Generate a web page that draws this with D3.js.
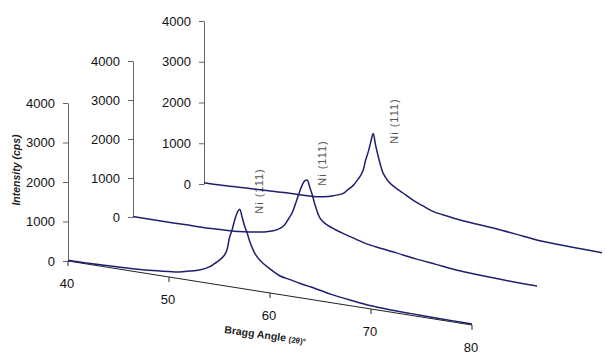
<!DOCTYPE html>
<html>
<head>
<meta charset="utf-8">
<script src="https://cdn.jsdelivr.net/npm/d3@7"></script>
<style>
  body { margin: 0; background: #fff; }
  svg { display: block; font-family: Arial, "Liberation Sans", sans-serif; }
</style>
</head>
<body>
<div id="chart"></div>
<script>
// Bragg angle grid (2θ, degrees)
const angles = [40, 42, 44, 46, 48, 50, 51, 52, 53, 54, 54.5, 55, 55.5, 55.75, 56, 56.25, 56.5, 56.75,
  57, 57.25, 57.5, 57.75, 58, 58.5, 59, 60, 61, 62, 63, 64, 66, 68, 70, 72, 74, 76, 78, 80];

// intensity (cps), front to back
const frontCounts = [20, 25, 40, 60, 90, 140, 170, 230, 300, 420, 520, 630, 780, 930, 1250, 1450, 1700, 1900,
  2000, 1800, 1580, 1420, 1220, 940, 790, 610, 470, 420, 360, 320, 215, 140, 80, 55, 45, 35, 30, 25];
const middleCounts = [10, 20, 30, 45, 60, 90, 120, 160, 210, 290, 360, 480, 700, 820, 1000, 1200, 1400, 1580,
  1700, 1730, 1560, 1380, 1150, 820, 700, 590, 510, 440, 370, 330, 270, 200, 150, 100, 75, 60, 50, 50];
const backCounts = [30, 50, 80, 110, 140, 160, 170, 210, 280, 380, 500, 620, 800, 900, 1040, 1300, 1500, 1750,
  1980, 1700, 1450, 1230, 1050, 880, 780, 650, 520, 420, 330, 290, 230, 200, 165, 120, 75, 65, 60, 55];

const xTicks = [40, 50, 60, 70, 80];
const yTicks = [0, 1000, 2000, 3000, 4000];
const peakLabel = 'Ni (111)';

const width = 606, height = 355;

// each series sits on its own slanted floor (pseudo 3D)
const panels = [
  { counts: backCounts,   x0: 204, y0: 184, x1: 602, y1: 255, k: 40.75, label: [394, 121] },
  { counts: middleCounts, x0: 133, y0: 217, x1: 537, y1: 288, k: 39,    label: [322, 163] },
  { counts: frontCounts,  x0: 68,  y0: 261, x1: 472, y1: 325, k: 39.5,  label: [259, 191] }
];

const svg = d3.select('#chart')
  .append('svg')
  .attr('width', width)
  .attr('height', height);

const lineColor = '#1f1f6e';

// peak labels go underneath the traces
panels.forEach(p => {
  svg.append('text')
    .attr('transform', `translate(${p.label[0]},${p.label[1]}) rotate(-90)`)
    .attr('text-anchor', 'middle')
    .attr('dy', '0.35em')
    .attr('font-size', '11px')
    .attr('letter-spacing', '1px')
    .attr('fill', '#555')
    .text(peakLabel);
});

panels.forEach((p, i) => {
  const x = d3.scaleLinear().domain([40, 80]).range([p.x0, p.x1]);
  const floor = d3.scaleLinear().domain([40, 80]).range([p.y0, p.y1]);
  const lift = d3.scaleLinear().domain([0, 4000]).range([0, 4 * p.k]);
  const yAxisScale = d3.scaleLinear().domain([0, 4000]).range([p.y0, p.y0 - 4 * p.k]);

  // y axis
  const yAxis = svg.append('g')
    .attr('transform', `translate(${p.x0},0)`)
    .call(d3.axisLeft(yAxisScale).tickValues(yTicks).tickFormat(d3.format('d'))
      .tickSize(5).tickSizeOuter(0).tickPadding(8));
  yAxis.select('.domain').attr('stroke', '#666');
  yAxis.selectAll('.tick line').attr('stroke', '#666');
  yAxis.selectAll('.tick text')
    .attr('font-size', '13px')
    .attr('fill', '#111')
    .attr('font-family', 'Arial, "Liberation Sans", sans-serif');

  // front panel gets the angle axis
  if (i === panels.length - 1) {
    svg.append('line')
      .attr('x1', x(40)).attr('y1', floor(40))
      .attr('x2', x(80)).attr('y2', floor(80))
      .attr('stroke', '#222').attr('stroke-width', 1);

    const ticks = svg.append('g').selectAll('g')
      .data(xTicks)
      .enter()
      .append('g');
    ticks.append('line')
      .attr('x1', d => x(d)).attr('y1', d => floor(d))
      .attr('x2', d => x(d)).attr('y2', d => floor(d) + 5)
      .attr('stroke', '#222');
    ticks.append('text')
      .attr('x', d => x(d) - 1)
      .attr('y', d => floor(d) + 22)
      .attr('text-anchor', 'middle')
      .attr('dy', '0.35em')
      .attr('font-size', '13px')
      .attr('fill', '#111')
      .text(d => d);
  }

  // trace
  const line = d3.line()
    .x(d => x(d[0]))
    .y(d => floor(d[0]) - lift(d[1]))
    .curve(d3.curveCatmullRom.alpha(0.5));

  svg.append('path')
    .datum(angles.map((a, j) => [a, p.counts[j]]))
    .attr('d', line)
    .attr('fill', 'none')
    .attr('stroke', lineColor)
    .attr('stroke-width', 1.5);
});

// axis titles
svg.append('text')
  .attr('transform', 'translate(20,170) rotate(-90)')
  .attr('text-anchor', 'middle')
  .attr('font-size', '10.5px')
  .attr('font-weight', 'bold')
  .attr('font-style', 'italic')
  .attr('fill', '#222')
  .text('Intensity (cps)');

const xTitle = svg.append('text')
  .attr('transform', 'translate(224,333) rotate(8)')
  .attr('font-size', '10.5px')
  .attr('font-weight', 'bold')
  .attr('fill', '#222');
xTitle.append('tspan').text('Bragg Angle ');
xTitle.append('tspan').attr('font-size', '8px').text('(2θ)°');
</script>
</body>
</html>
